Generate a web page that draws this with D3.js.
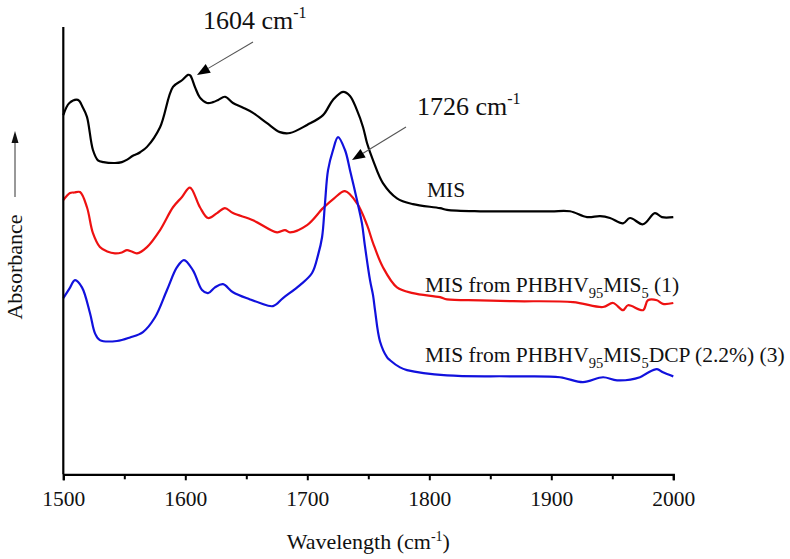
<!DOCTYPE html>
<html>
<head>
<meta charset="utf-8">
<script src="https://cdn.jsdelivr.net/npm/d3@7"></script>
<style>
  html, body { margin: 0; padding: 0; background: #fff; }
  svg { display: block; }
  text { font-family: "Liberation Serif", "Times New Roman", serif; fill: #111; }
</style>
</head>
<body>
<svg id="chart" width="790" height="559"></svg>
<script>
// ---- Data (wavenumber cm-1, absorbance in arbitrary offset units) ----
const misData = [
  [1500,80.3],[1505,83.0],[1512,83.7],[1516,82.0],[1519.4,79.9],[1524.3,72.5],[1528.4,70.2],
  [1533,69.8],[1542.4,69.6],[1548,69.8],[1552,70.3],[1557,71.2],[1560.4,71.6],[1563,72.0],
  [1568.6,73.2],[1579.3,77.6],[1589.9,86.6],[1597.3,88.1],[1602.2,89.3],[1604,89.2],[1607.9,86.6],
  [1612,84.2],[1617.8,83.0],[1622.7,83.2],[1627,83.7],[1632.5,84.4],[1639.1,83.0],[1647,82.0],
  [1655.5,80.8],[1667,78.5],[1677.6,76.5],[1685.8,76.3],[1699.8,78.1],[1712.9,80.3],[1721,83.7],
  [1729.3,85.5],[1735,84.6],[1740.7,81.4],[1745.7,77.6],[1749,74.0],[1753.9,70.2],[1762,65.1],
  [1773.5,61.7],[1786.6,60.4],[1808.8,59.5],[1814.5,59.1],[1841.6,58.8],[1870,58.8],[1900,58.8],
  [1915.3,58.8],[1929.3,57.5],[1940,57.7],[1948.1,57.3],[1958.8,56.1],[1964.5,57.3],[1975.2,55.9],
  [1984.9,58.4],[1990.7,57.5],[2000,57.5]
];
const mis1Data = [
  [1500,61.3],[1505.5,62.9],[1509,63.0],[1513.7,63.1],[1519.4,59.7],[1524.3,53.9],[1530,50.8],
  [1536,49.8],[1542.4,49.4],[1548,49.6],[1552.2,50.1],[1556,49.8],[1560.4,49.4],[1568.6,50.8],
  [1579.3,54.6],[1589.9,59.7],[1597.3,62.0],[1603.8,64.1],[1612,59.7],[1618.6,57.3],[1626,58.4],
  [1632.5,59.5],[1639.1,58.4],[1655.5,56.8],[1675.2,54.1],[1681.7,54.6],[1685.8,54.1],
  [1699.8,55.7],[1712.9,59.5],[1722,61.7],[1730.9,63.3],[1740.7,60.6],[1749,55.7],[1753.9,51.7],
  [1762,46.3],[1773.5,41.8],[1786.6,40.5],[1808.8,39.6],[1814.5,39.1],[1841.6,38.9],[1868.6,38.7],
  [1917.8,38.5],[1942.4,37.4],[1950.6,38.3],[1958.8,36.7],[1962.9,37.8],[1975.2,36.7],
  [1979.2,38.9],[1986.6,38.9],[1991.5,38.1],[2000,38.3]
];
const mis3Data = [
  [1500,39.4],[1505,41.5],[1509.6,43.4],[1515.3,41.8],[1521.9,36.0],[1526,31.5],[1530,30.0],
  [1544,29.8],[1554.7,30.6],[1565.3,31.8],[1575.2,35.1],[1585,41.2],[1593.2,46.3],[1598.9,47.9],
  [1606.3,45.6],[1613.7,41.2],[1618.6,40.5],[1624.3,41.8],[1630.9,42.5],[1639.1,40.7],[1653,39.1],
  [1661.2,38.3],[1671.9,37.6],[1680.1,39.4],[1694,42.3],[1703.9,45.0],[1708.8,49.0],[1712.1,53.0],
  [1714.5,60.6],[1717,68.0],[1721.1,72.5],[1725.2,75.4],[1730.9,72.5],[1735,68.0],[1740.7,61.3],
  [1744.8,56.1],[1747,51.5],[1751.4,43.4],[1753.9,40.0],[1755.5,36.7],[1759.6,29.7],[1765.3,26.2],
  [1767.8,25.5],[1776,23.9],[1781.7,23.3],[1814.5,22.1],[1868.6,21.9],[1907.1,21.7],[1926,20.6],
  [1942.4,21.7],[1953.9,21.0],[1972.7,21.7],[1978.4,22.6],[1986.6,23.5],[1991.5,22.8],[2000,21.9]
];
const xTicks = [1500,1550,1600,1650,1700,1750,1800,1850,1900,1950,2000];
const xTickLabels = ["1500","","1600","","1700","","1800","","1900","","2000"];
const seriesColors = ["#000000","#ee1111","#1111dd"];

// ---- Layout ----
const svg = d3.select("#chart");
const mLeft = 63.3, mRight = 673.3, mTop = 27, mBottom = 474.3;
const x = d3.scaleLinear().domain([1500,2000]).range([mLeft,mRight]);
const y = d3.scaleLinear().domain([0,100]).range([mBottom,mTop]);

const line = d3.line().x(d => x(d[0])).y(d => y(d[1])).curve(d3.curveCatmullRom.alpha(0.5));

[misData, mis1Data, mis3Data].forEach((data,i) => {
  svg.append("path").datum(data)
    .attr("d", line)
    .attr("fill","none")
    .attr("stroke", seriesColors[i])
    .attr("stroke-width", 2.2)
    .attr("stroke-linejoin","round");
});

// axes
const xAxis = d3.axisBottom(x).tickValues(xTicks)
  .tickFormat((d,i) => xTickLabels[i]).tickSize(6).tickPadding(10);
const gx = svg.append("g").attr("transform", `translate(0,${mBottom})`).call(xAxis);
gx.select(".domain").attr("stroke","#000").attr("stroke-width",2.2);
gx.selectAll(".tick line").attr("stroke","#000").attr("stroke-width",2)
  .attr("y2",(d,i) => i % 2 === 0 ? 6 : 5);
gx.selectAll(".tick text").attr("font-size",21.5).attr("font-family","Liberation Serif").attr("fill","#111");

svg.append("line").attr("x1",mLeft).attr("x2",mLeft).attr("y1",mTop).attr("y2",mBottom)
  .attr("stroke","#000").attr("stroke-width",2.2);

// x label
const xl = svg.append("text").attr("x",(mLeft+mRight)/2).attr("y",549)
  .attr("text-anchor","middle").attr("font-size",22);
xl.append("tspan").text("Wavelength (cm");
xl.append("tspan").attr("dy",-8).attr("font-size",14).text("-1");
xl.append("tspan").attr("dy",8).text(")");

// y label with arrow
svg.append("text").attr("transform","translate(22,267) rotate(-90)")
  .attr("text-anchor","middle").attr("font-size",22).text("Absorbance");
svg.append("line").attr("x1",15).attr("x2",15).attr("y1",197).attr("y2",140)
  .attr("stroke","#333").attr("stroke-width",1);
svg.append("path").attr("d","M15,131 L11.5,143 L18.5,143 Z").attr("fill","#111");

// annotations
function annot(tx, ty, label, fx, fy, ex, ey) {
  const t = svg.append("text").attr("x",tx).attr("y",ty).attr("font-size",26);
  t.append("tspan").text(label + " cm");
  t.append("tspan").attr("dy",-11).attr("font-size",16).text("-1");
  const ang = Math.atan2(ey-fy, ex-fx);
  const hl = 13, hw = 5;
  const bx = ex - hl*Math.cos(ang), by = ey - hl*Math.sin(ang);
  svg.append("line").attr("x1",fx).attr("y1",fy).attr("x2",bx).attr("y2",by)
    .attr("stroke","#555").attr("stroke-width",1.1);
  const px = -Math.sin(ang), py = Math.cos(ang);
  svg.append("path").attr("d",
    `M${ex},${ey} L${bx+hw*px},${by+hw*py} L${bx-hw*px},${by-hw*py} Z`).attr("fill","#000");
}
annot(203, 29, "1604", 253, 42, 197, 75);
annot(417, 115, "1726", 406, 127, 352, 160);

// series labels
svg.append("text").attr("x",427).attr("y",197).attr("font-size",21.5).text("MIS");
function seriesLabel(yy, parts) {
  const t = svg.append("text").attr("x",425).attr("y",yy).attr("font-size",21.5);
  let shifted = false;
  parts.forEach(p => {
    const ts = t.append("tspan").text(p.t);
    if (p.sub) {
      ts.attr("font-size",14.5).attr("dy", shifted ? 0 : 6);
      shifted = true;
    } else {
      if (shifted) ts.attr("dy",-6);
      shifted = false;
    }
  });
}
seriesLabel(292, [{t:"MIS from PHBHV"},{t:"95",sub:true},{t:"MIS"},{t:"5",sub:true},{t:" (1)"}]);
seriesLabel(362, [{t:"MIS from PHBHV"},{t:"95",sub:true},{t:"MIS"},{t:"5",sub:true},{t:"DCP (2.2%) (3)"}]);
</script>
</body>
</html>
